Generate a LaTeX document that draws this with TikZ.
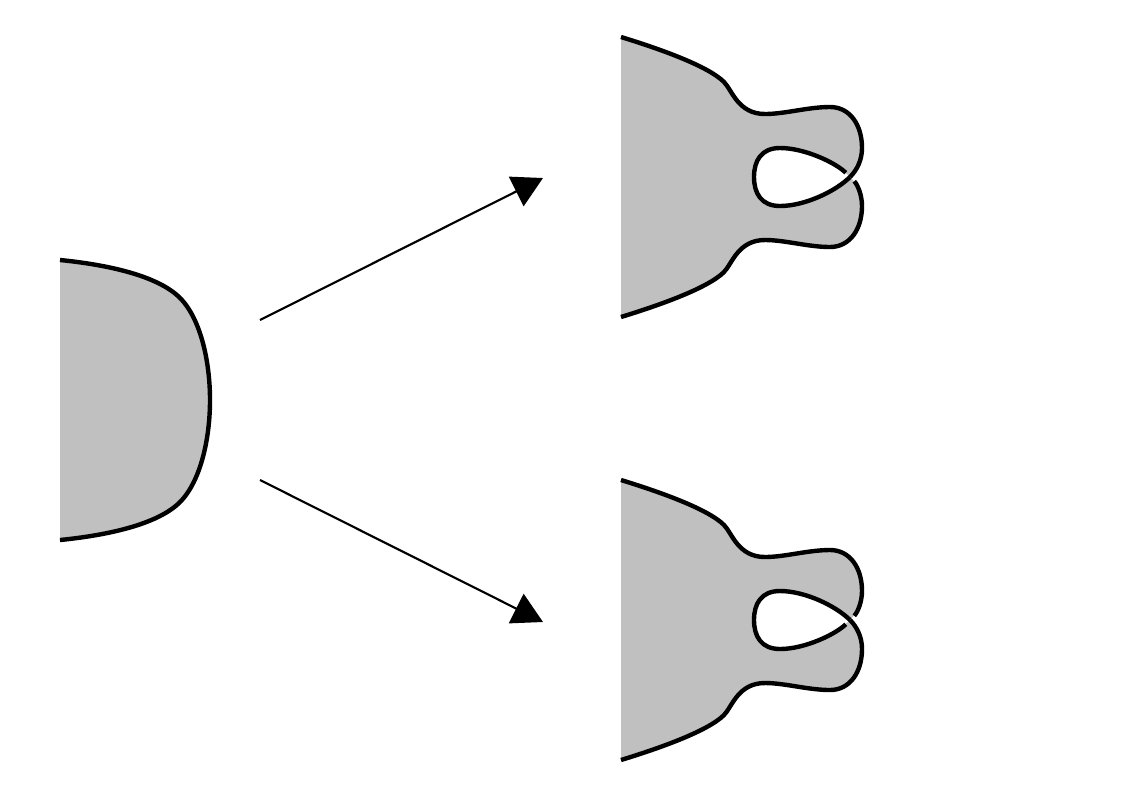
\documentclass[tikz,border=0pt]{standalone}
\usetikzlibrary{arrows.meta}
\definecolor{shapegray}{RGB}{192,192,192}
\tikzset{
  outline/.style={line width=3.3pt, line cap=butt, line join=round},
  region/.style={fill=shapegray, even odd rule},
  arrowline/.style={line width=1.6pt, -{Triangle[length=22.5pt,width=24.5pt]}},
}
% right shape, pieces of its boundary (screen px, y down)
\newcommand\lobeA{(621,37) .. controls (660,49) and (708,66) .. (724,82)
  .. controls (732,90) and (738,114) .. (765,114)
  .. controls (785,114) and (808,107) .. (830,107)
  .. controls (850,107) and (862,125) .. (862,148)
  .. controls (862,160) and (857,170) .. (850,177)}
\newcommand\lobeB{.. controls (836,191) and (805,206) .. (780,206)
  .. controls (761,206) and (754,193) .. (754,177)
  .. controls (754,161) and (761,148) .. (780,148)
  .. controls (805,148) and (836,163) .. (850,177)}
\newcommand\lobeC{.. controls (857,184) and (862,194) .. (862,206)
  .. controls (862,229) and (850,247) .. (830,247)
  .. controls (808,247) and (785,240) .. (765,240)
  .. controls (738,240) and (732,264) .. (724,272)
  .. controls (708,288) and (660,305) .. (621,317)}
\begin{document}
\begin{tikzpicture}[x=0.75pt,y=-0.75pt]
\useasboundingbox (0,0) rectangle (1123,794);
\fill[white] (0,0) rectangle (1123,794);

% left shape
\fill[region] (60,260) .. controls (110,265) and (156,276) .. (178,296)
  .. controls (200,316) and (210,360) .. (210,400)
  .. controls (210,440) and (200,484) .. (178,504)
  .. controls (156,524) and (110,535) .. (60,540) -- cycle;
\draw[outline] (60,260) .. controls (110,265) and (156,276) .. (178,296)
  .. controls (200,316) and (210,360) .. (210,400)
  .. controls (210,440) and (200,484) .. (178,504)
  .. controls (156,524) and (110,535) .. (60,540);

% upper right shape
\begin{scope}
  \fill[region] \lobeA \lobeB \lobeC -- cycle;
  \draw[outline] \lobeA;
  \draw[outline, shorten >=4.5pt] (850,177) \lobeB;
  \draw[outline, shorten <=4.5pt] (850,177) \lobeC;
\end{scope}

% lower right shape
\begin{scope}[shift={(0,443)}]
  \fill[region] \lobeA \lobeB \lobeC -- cycle;
  \draw[outline, shorten >=4.5pt] \lobeA;
  \draw[outline, shorten <=4.5pt] (850,177) \lobeB;
  \draw[outline] (850,177) \lobeC;
\end{scope}

% arrows
\coordinate (a1s) at (260,320);
\coordinate (a1e) at (543,178);
\coordinate (a2s) at (260,480);
\coordinate (a2e) at (543,622);
\draw[arrowline] (a1s) -- (a1e);
\draw[arrowline] (a2s) -- (a2e);
\end{tikzpicture}
\end{document}
